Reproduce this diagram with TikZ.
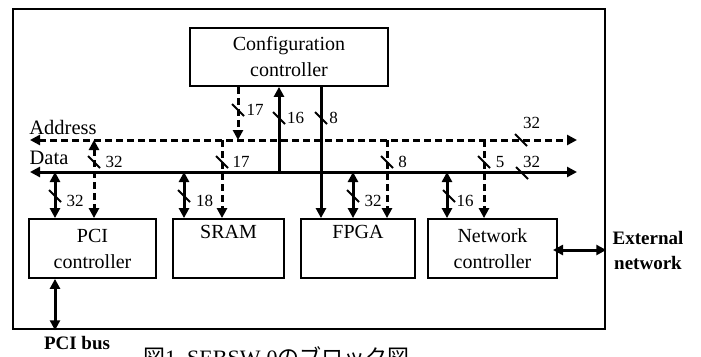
\documentclass[tikz,border=0pt]{standalone}
\usepackage{fontspec}
\setmainfont{Liberation Serif}
\newfontfamily\cjk{Noto Sans CJK JP}
\usetikzlibrary{arrows.meta}
\begin{document}
\begin{tikzpicture}[x=1pt,y=-1pt,
  blk/.style={draw,line width=1.8pt,inner sep=0pt,align=center,font=\fontsize{20}{26}\selectfont},
  bus/.style={line width=3pt},
  dbus/.style={line width=3pt,dash pattern=on 7pt off 4pt},
  tipe/.style={-{Triangle[length=10pt,width=10pt]}},
  tipb/.style={{Triangle[length=10pt,width=10pt]}-{Triangle[length=10pt,width=10pt]}},
  slash/.style={line width=1.8pt},
  num/.style={font=\fontsize{17}{17}\selectfont,inner sep=0pt},
  lbl/.style={font=\fontsize{20.5}{24}\selectfont,inner sep=0pt},
  blbl/.style={font=\bfseries\fontsize{19}{25}\selectfont,inner sep=0pt,align=center}]
\useasboundingbox (0,0) rectangle (701,356);
% frame
\node[draw,line width=2.5pt,minimum width=592pt,minimum height=320pt,inner sep=0pt] (frame) at (309,169) {};
% blocks
\node[blk,minimum width=198pt,minimum height=58pt] (cfg) at (289,57) {Configuration\\controller};
\node[blk,minimum width=127pt,minimum height=59pt] (pci) at (92.5,248.5) {PCI\\controller};
\node[blk,minimum width=111pt,minimum height=59pt] (sram) at (228.5,248.5) {SRAM\\\strut};
\node[blk,minimum width=114pt,minimum height=59pt] (fpga) at (358,248.5) {FPGA\\\strut};
\node[blk,minimum width=129pt,minimum height=59pt] (net) at (492.5,248.5) {Network\\controller};
% buses
\coordinate (aL) at (30,140); \coordinate (aR) at (577,140);
\coordinate (dL) at (30,172); \coordinate (dR) at (577,172);
\draw[dbus,tipb] (aL) -- (aR);
\draw[bus,tipb] (dL) -- (dR);
\node[lbl] (addr) at (63,127) {Address};
\node[lbl] (data) at (49,158) {Data};
% bus tap coordinates
\coordinate (pA) at (94,140);  \coordinate (pD) at (55,172);
\coordinate (sA) at (222,140); \coordinate (sD) at (184,172);
\coordinate (fA) at (387,140); \coordinate (fD) at (353,172);
\coordinate (nA) at (484,140); \coordinate (nD) at (447,172);
\coordinate (cA) at (238,140); \coordinate (cD) at (279,172);
\coordinate (c8) at (321,0);
% configuration controller links
\draw[dbus,tipe] (cA |- cfg.south) -- (cA);
\draw[bus,tipe] (cD) -- (cD |- cfg.south);
\draw[bus,tipe] (c8 |- cfg.south) -- (c8 |- fpga.north);
% PCI
\draw[dbus,tipb] (pA) -- (pA |- pci.north);
\draw[bus,tipb] (pD) -- (pD |- pci.north);
\draw[bus,tipb] (pci.south -| pD) -- (frame.south -| pD);
% SRAM
\draw[dbus,tipe] (sA) -- (sA |- sram.north);
\draw[bus,tipb] (sD) -- (sD |- sram.north);
% FPGA
\draw[dbus,tipe] (fA) -- (fA |- fpga.north);
\draw[bus,tipb] (fD) -- (fD |- fpga.north);
% Network
\draw[dbus,tipe] (nA) -- (nA |- net.north);
\draw[bus,tipb] (nD) -- (nD |- net.north);
\coordinate (nE) at (553,250);
\draw[bus,tipb] (nE) -- (nE -| frame.east);
% slashes
\foreach \x/\y in {238/110, 279/118, 321/118, 94/162, 222/162, 387/162, 484/162,
                   521/140, 522/173, 55/196, 184/196, 353/196, 449/196}
  \draw[slash] (\x,\y) +(-6,-6) -- +(6,6);
% width labels
\node[num] (n1) at (255,110) {17};
\node[num] (n2) at (295.5,118) {16};
\node[num] (n3) at (333.5,118) {8};
\node[num] (n4) at (114,162) {32};
\node[num] (n5) at (241,162) {17};
\node[num] (n6) at (402.5,162) {8};
\node[num] (n7) at (500,162) {5};
\node[num] (n8) at (531.5,123) {32};
\node[num] (n9) at (531.5,162) {32};
\node[num] (n10) at (75,201) {32};
\node[num] (n11) at (204.5,201) {18};
\node[num] (n12) at (373,201) {32};
\node[num] (n13) at (465,201) {16};
% outside labels
\node[blbl] (ext) at (648,250.5) {External\\network};
\node[blbl] (pcibus) at (77,343) {PCI bus};
\node[anchor=base west,inner sep=0pt,font=\fontsize{22}{22}\selectfont] (cap) at (143,365) {{\cjk 図}1\ \ SEBSW-0{\cjk のブロック図}};
\end{tikzpicture}
\end{document}
